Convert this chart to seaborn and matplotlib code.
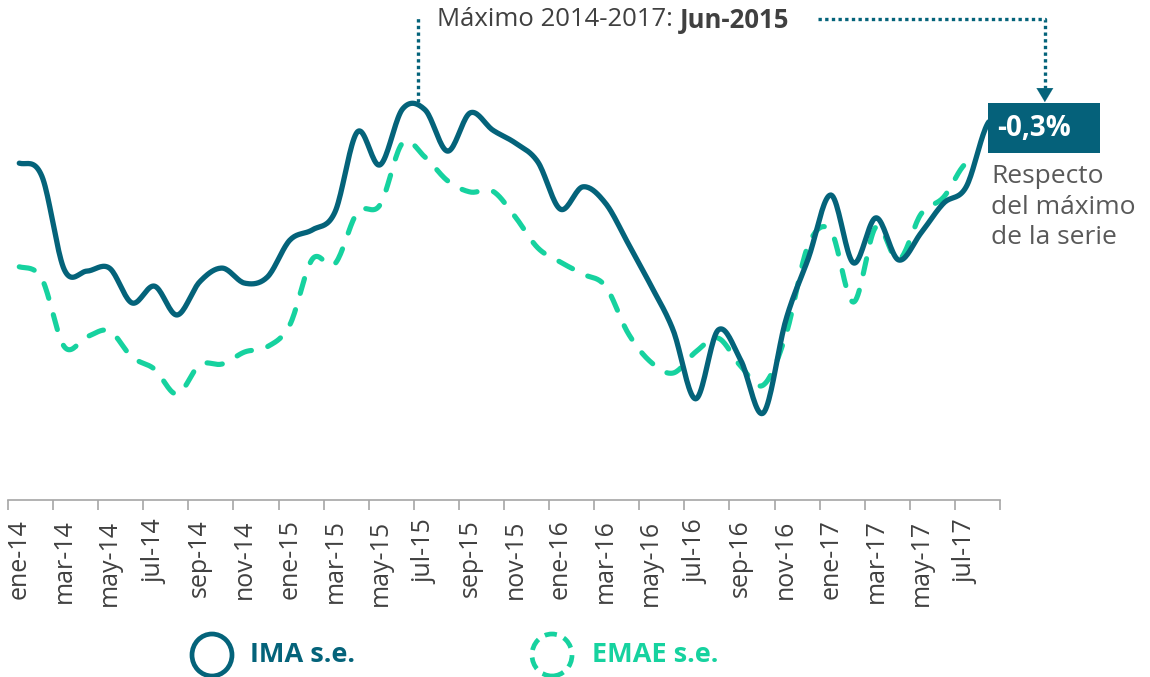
import numpy as np
import pandas as pd
import matplotlib
matplotlib.use('Agg')
import matplotlib.pyplot as plt
import seaborn as sns
from matplotlib.patches import Rectangle, Ellipse

# meses ene-14 ... ago-17
meses = ['ene', 'feb', 'mar', 'abr', 'may', 'jun', 'jul', 'ago', 'sep', 'oct', 'nov', 'dic']
periodos = [f'{m}-{a}' for a in ['14', '15', '16', '17'] for m in meses][:44]

# IMA s.e. (indice, jun-15 = 100)
ima = [98.74, 98.44, 96.26, 96.23, 96.30, 95.49, 95.88, 95.21, 95.98, 96.30, 95.95, 96.09,
       96.95, 97.19, 97.60, 99.47, 98.70, 100.00, 99.98, 99.02, 99.91, 99.51, 99.21, 98.77,
       97.67, 98.19, 97.81, 96.88, 95.91, 94.86, 93.26, 94.86, 94.16, 92.93, 95.09, 96.53,
       98.00, 96.42, 97.47, 96.49, 97.12, 97.81, 98.19, 99.70]

# EMAE s.e. (hasta jul-17)
emae = [96.33, 96.05, 94.47, 94.70, 94.84, 94.23, 93.95, 93.37, 94.05, 94.07, 94.35, 94.47,
        94.98, 96.51, 96.40, 97.60, 97.77, 99.21, 98.88, 98.33, 98.07, 98.09, 97.49, 96.77,
        96.44, 96.16, 95.88, 94.79, 94.12, 93.86, 94.35, 94.67, 94.02, 93.58, 94.74, 96.84,
        97.16, 95.51, 97.26, 96.49, 97.56, 97.95, 98.74]

c_ima = '#04637a'
c_emae = '#16d29f'
c_txt = '#404040'


def suavizar(y, n=20):
    # curva suavizada tipo excel (catmull-rom)
    y = np.asarray(y, float)
    p = np.concatenate([[y[0]], y, [y[-1]]])
    t = np.linspace(0, 1, n, endpoint=False)
    xs, ys = [], []
    for i in range(len(y) - 1):
        p0, p1, p2, p3 = p[i], p[i + 1], p[i + 2], p[i + 3]
        m1 = (p2 - p0) / 2
        m2 = (p3 - p1) / 2
        h = ((2 * t**3 - 3 * t**2 + 1) * p1 + (t**3 - 2 * t**2 + t) * m1
             + (-2 * t**3 + 3 * t**2) * p2 + (t**3 - t**2) * m2)
        xs.append(i + t)
        ys.append(h)
    xs.append([len(y) - 1])
    ys.append([y[-1]])
    return np.concatenate(xs), np.concatenate(ys)


x1, y1 = suavizar(ima)
x2, y2 = suavizar(emae)
df_ima = pd.DataFrame({'x': x1, 'v': y1})
df_emae = pd.DataFrame({'x': x2, 'v': y2})

sns.set_style('white')
plt.rcParams['font.family'] = ['Open Sans', 'DejaVu Sans']

fig = plt.figure(figsize=(11.5, 6.77), dpi=100)
ax = fig.add_axes([8 / 1150, 177 / 677, 992 / 1150, 500 / 677])

sns.lineplot(data=df_emae, x='x', y='v', ax=ax, color=c_emae, lw=3.7,
             linestyle=(0, (3.0, 3.3)), dash_capstyle='round')
sns.lineplot(data=df_ima, x='x', y='v', ax=ax, color=c_ima, lw=3.8,
             solid_capstyle='round')

ax.set_xlim(-0.5, 43.5)
ax.set_ylim(90.907, 102.535)
ax.set_xlabel('')
ax.set_ylabel('')
ax.set_yticks([])
for s in ['left', 'top', 'right']:
    ax.spines[s].set_visible(False)
ax.spines['bottom'].set_color('#a6a6a6')
ax.spines['bottom'].set_linewidth(1.2)

# marcas entre categorias cada 2 meses, etiquetas centradas
ax.set_xticks(np.arange(-0.5, 44, 2))
ax.set_xticklabels([])
ax.tick_params(axis='x', which='major', bottom=True, length=7, width=1.2,
               color='#a6a6a6', direction='out')
ax.set_xticks(np.arange(0, 44, 2), minor=True)
ax.set_xticklabels(periodos[::2], minor=True, rotation=90, fontsize=18, color=c_txt)
ax.tick_params(axis='x', which='minor', bottom=True, length=0, pad=14)

# anotacion del maximo
ax.plot([17.7, 17.7], [100.16, 102.15], ls=(0, (1, 1)), color=c_ima, lw=2.4, clip_on=False)
t1 = fig.text(437 / 1150, 1 - 20 / 677, 'Máximo 2014-2017: ', fontsize=18.5, color=c_txt,
              ha='left', va='center')
fig.canvas.draw()
bb = t1.get_window_extent()
fig.text(bb.x1 / 1150, 1 - 20 / 677, 'Jun-2015', fontsize=18.5, color=c_txt,
         fontweight='bold', ha='left', va='center')

ax.plot([35.42, 45.49, 45.49], [102.09, 102.09, 100.5], ls=(0, (1, 1)), color=c_ima,
        lw=2.4, clip_on=False)
ax.annotate('', xy=(45.49, 100.16), xytext=(45.49, 100.5),
            arrowprops=dict(arrowstyle='-|>,head_length=0.5,head_width=0.3', mutation_scale=20,
                            color=c_ima, lw=0.1, shrinkA=0, shrinkB=0), annotation_clip=False)

fig.add_artist(Rectangle((988 / 1150, 1 - 153 / 677), 112 / 1150, 50 / 677,
                         facecolor='#05617a', edgecolor='none', transform=fig.transFigure))
fig.text(997 / 1150, 1 - 129 / 677, '-0,3%', fontsize=20, fontweight='bold', color='white',
         ha='left', va='center')
fig.text(991 / 1150, 1 - 207 / 677, 'Respecto\ndel máximo\nde la serie', fontsize=19,
         color='#595959', ha='left', va='center', linespacing=1.3)

# leyenda
fig.add_artist(Ellipse((212 / 1150, 1 - 655 / 677), 40 / 1150, 42 / 677, facecolor='none',
                       edgecolor=c_ima, lw=3.4, transform=fig.transFigure))
fig.text(250 / 1150, 1 - 655 / 677, 'IMA s.e.', fontsize=19.5, fontweight='bold', color=c_ima,
         ha='left', va='center')
fig.add_artist(Ellipse((552 / 1150, 1 - 655 / 677), 40 / 1150, 42 / 677, facecolor='none',
                       edgecolor=c_emae, lw=3.4, linestyle=(0, (2.6, 1.6)),
                       transform=fig.transFigure))
fig.text(592 / 1150, 1 - 655 / 677, 'EMAE s.e.', fontsize=19.5, fontweight='bold', color=c_emae,
         ha='left', va='center')

fig.savefig('out.png', dpi=100)
